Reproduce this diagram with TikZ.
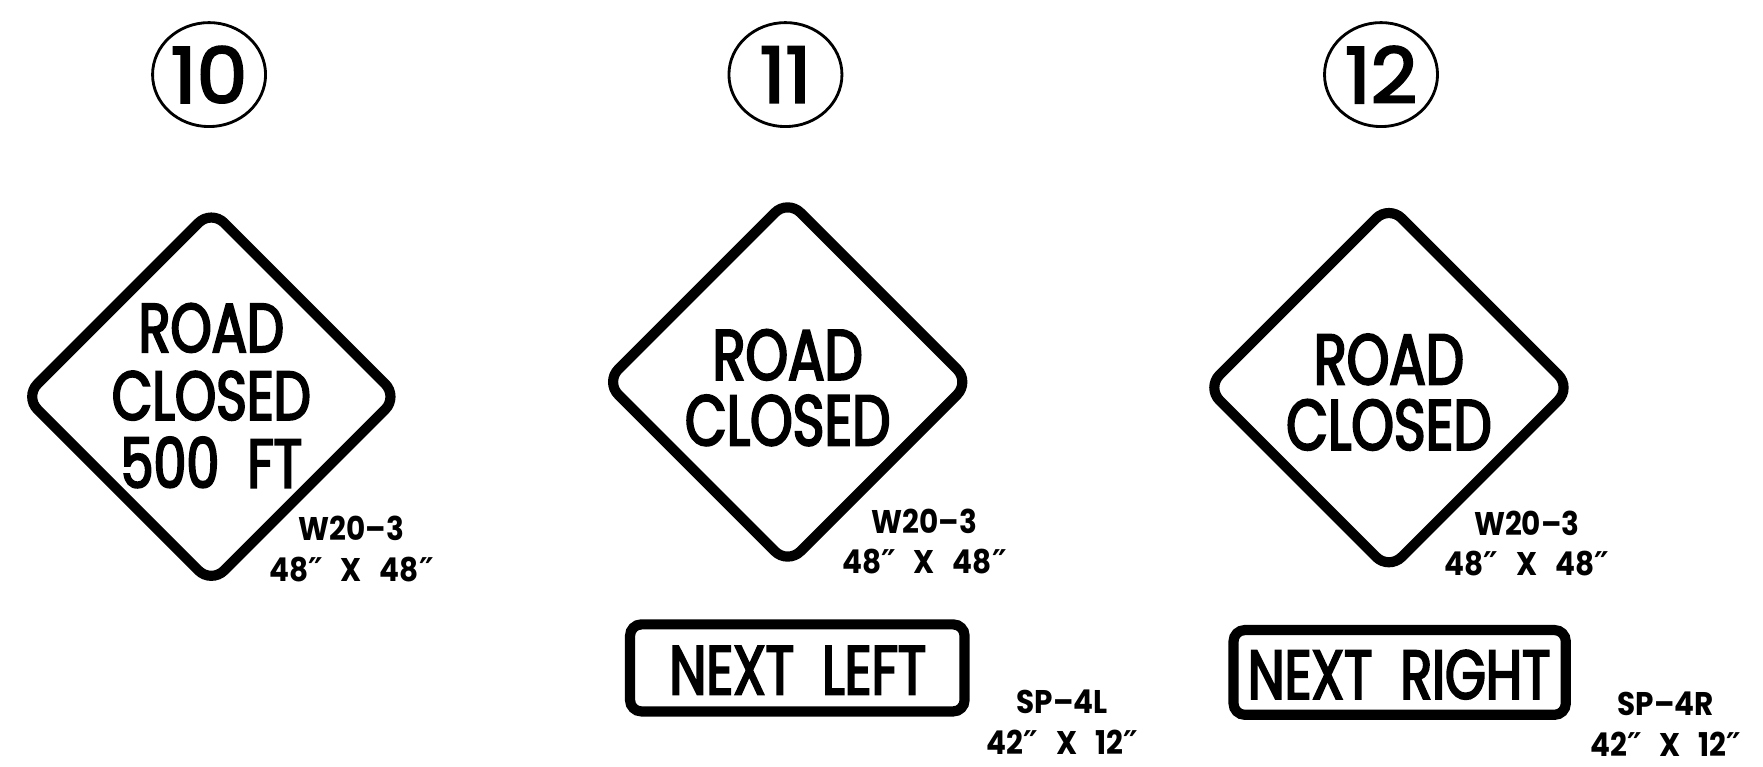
\documentclass[tikz,border=0pt]{standalone}
\usepackage{fontspec}
\usepackage{tikz}
\usetikzlibrary{shapes.geometric, positioning}

\newfontfamily\signfont[FakeStretch=0.76, FakeBold=3]{Poppins}
\newfontfamily\ringfont[FakeStretch=1.05, FakeBold=3]{Poppins}
\newfontfamily\codefont[FakeStretch=0.9]{Poppins}
\newfontfamily\primefont{DejaVu Sans}
\newcommand{\inch}{{\primefont\bfseries ″}}

\begin{document}
\begin{tikzpicture}[x=1pt,y=-1pt,
        numring/.style={draw, ellipse, line width=2.5pt, minimum width=100pt, minimum height=92pt, inner sep=0pt,
          font=\ringfont\fontsize{68}{68}\selectfont},
        warnsign/.style={draw, diamond, line width=9pt, rounded corners=16pt, inner sep=0pt},
        plaque/.style={draw, rectangle, line width=9pt, rounded corners=10pt, inner sep=0pt},
        signtext/.style={align=center, font=\signfont\fontsize{61}{60}\selectfont},
        legend/.style={align=center, font=\codefont\bfseries\fontsize{29}{36}\selectfont}]

      \useasboundingbox (0,0) rectangle (1560,678);

      % sign 10
      \node[numring] (n10) at (185,66) {10};
      \node[warnsign, minimum size=334pt] (w10) at (187,351) {};
      \node[signtext] (t10) at (187,350) {ROAD\\CLOSED\\500\ \ FT};
      \node[legend] (c10) at (311,486) {W20–3\\48\inch\ \ \,X\ \ \,48\inch};

      % sign 11
      \node[numring] (n11) at (695,66) {11};
      \node[warnsign, minimum size=326pt] (w11) at (697,338) {};
      \node[signtext, font=\signfont\fontsize{63}{58}\selectfont] (t11) at (697,343) {ROAD\\CLOSED};
      \node[legend] (c11) at (818,479) {W20–3\\48\inch\ \ \,X\ \ \,48\inch};
      \node[plaque, minimum width=296pt, minimum height=77pt] (p11) at (705.5,591) {};
      \node[signtext] (q11) at (706,593) {NEXT\ \ LEFT};
      \node[legend] (d11) at (940,639) {SP–4L\\42\inch\ \ \,X\ \ \,12\inch};

      % sign 12
      \node[numring] (n12) at (1222,66) {12};
      \node[warnsign, minimum size=326pt] (w12) at (1229,343) {};
      \node[signtext, font=\signfont\fontsize{63}{58}\selectfont] (t12) at (1229,347) {ROAD\\CLOSED};
      \node[legend] (c12) at (1351,481) {W20–3\\48\inch\ \ \,X\ \ \,48\inch};
      \node[plaque, minimum width=294pt, minimum height=75pt] (p12) at (1238.5,595) {};
      \node[signtext] (q12) at (1238,597) {NEXT\ \ RIGHT};
      \node[legend] (d12) at (1474,641) {SP–4R\\42\inch\ \ \,X\ \ \,12\inch};
    \end{tikzpicture}
\end{document}
